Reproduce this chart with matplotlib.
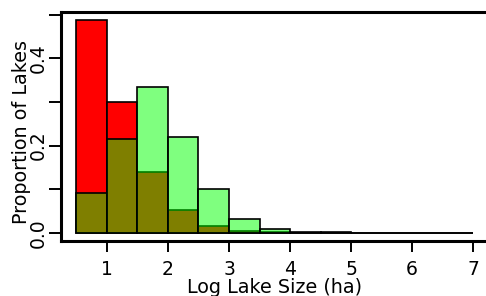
import numpy as np
import matplotlib
matplotlib.use("Agg")
import matplotlib.pyplot as plt

# Histogram bins (log10 lake size, ha) and proportions
bin_edges = [0.5, 1.0, 1.5, 2.0, 2.5, 3.0, 3.5, 4.0, 4.5, 5.0, 5.5, 6.0, 6.5, 7.0]
red_props = [0.487, 0.299, 0.139, 0.052, 0.016, 0.005, 0.001, 0, 0, 0, 0, 0, 0]
green_props = [0.090, 0.216, 0.334, 0.220, 0.100, 0.031, 0.0085, 0.002, 0.001,
               0.0003, 0.0003, 0.0002, 0.0002]

x_ticks = [1, 2, 3, 4, 5, 6, 7]
y_ticks = [0.0, 0.1, 0.2, 0.3, 0.4, 0.5]
y_ticklabels = ['0.0', '', '0.2', '', '0.4', '']

plt.rcParams['font.family'] = ['DejaVu Sans']

fig = plt.figure(figsize=(4.86, 2.96), dpi=100)
ax = fig.add_axes([0.1247, 0.1851, 0.8813, 0.7747])

left = np.array(bin_edges[:-1])
width = np.diff(bin_edges)

# red first (opaque), then semi-transparent green on top
ax.bar(left, red_props, width=width, align='edge', color='#ff0000',
       edgecolor='black', linewidth=1.2)
ax.bar(left, green_props, width=width, align='edge', color=(0, 1, 0, 0.5),
       edgecolor='black', linewidth=1.2)

ax.set_xlim(0.24, 7.26)
ax.set_ylim(-0.0195, 0.5065)

ax.set_xticks(x_ticks)
ax.set_xticklabels([str(t) for t in x_ticks])
ax.set_yticks(y_ticks)
ax.set_yticklabels(y_ticklabels)

for s in ax.spines.values():
    s.set_linewidth(2.2)

ax.tick_params(axis='x', length=8, width=1.4, pad=5.5, labelsize=13.5)
ax.tick_params(axis='y', length=9, width=1.4, pad=0, labelsize=13.5)
plt.setp(ax.get_yticklabels(), rotation=90, va='center', ha='right')

ax.set_xlabel('Log Lake Size (ha)', fontsize=13.8)
ax.xaxis.label.set_va('baseline')
ax.xaxis.set_label_coords(0.5, -0.2246)

ax.set_ylabel('Proportion of Lakes', fontsize=13.8)
ax.yaxis.label.set_va('baseline')
ax.yaxis.set_label_coords(-0.0792, 0.476)

fig.savefig('out.png', dpi=100, facecolor='white')
